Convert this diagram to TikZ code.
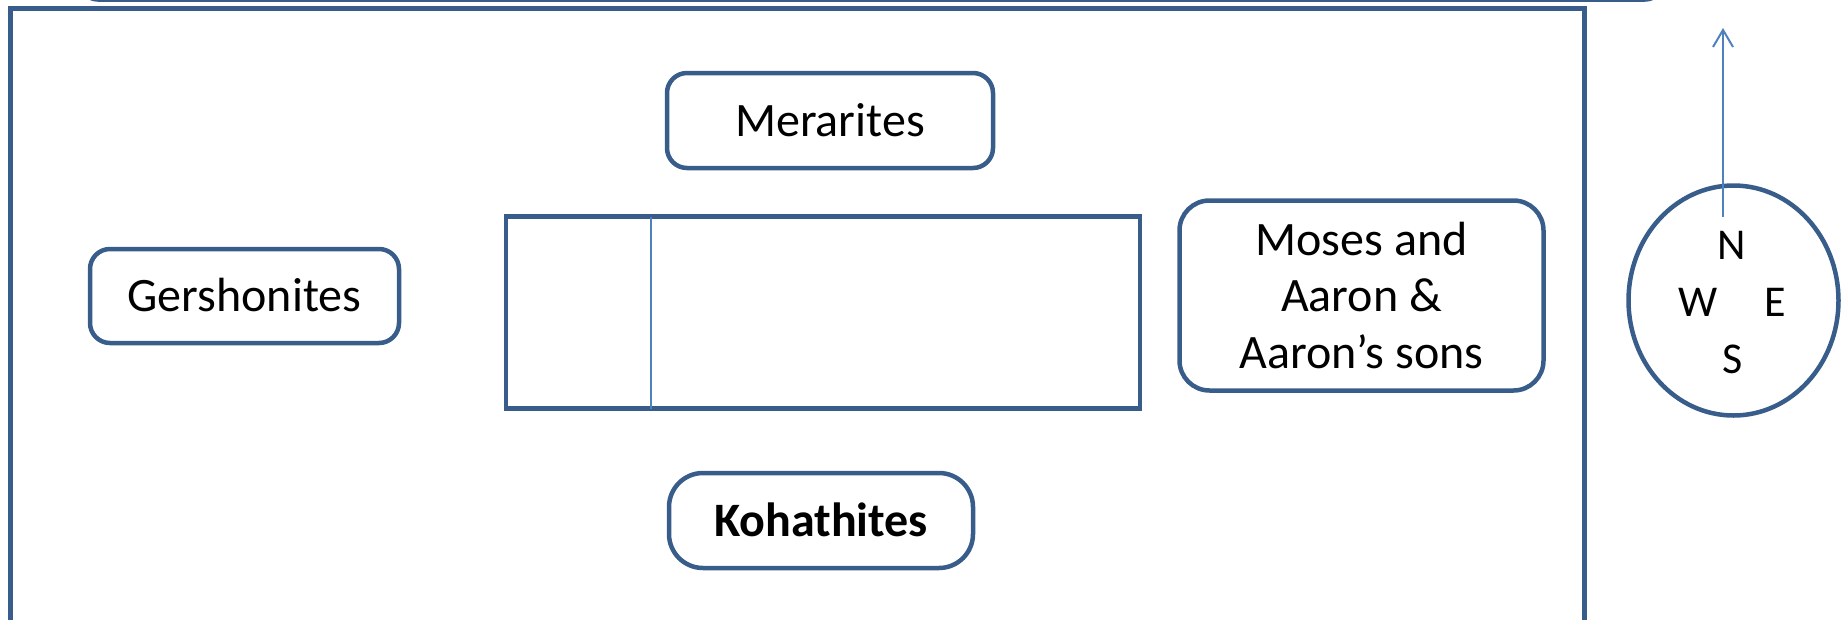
\documentclass[tikz,border=0pt]{standalone}
\usepackage{fontspec}
\setmainfont{Carlito}
\usetikzlibrary{arrows.meta,shapes.geometric}
\definecolor{edgeblue}{RGB}{56,93,138}
\definecolor{lightblue}{RGB}{79,129,189}
\tikzset{
  frame/.style={draw=edgeblue, line width=4.5pt},
  group/.style={draw=edgeblue, line width=4.5pt, rounded corners=20pt, inner sep=0pt,
    align=center, font=\fontsize{48}{56.5}\selectfont},
  single/.style={text height=31pt, text depth=0pt},
  letter/.style={inner sep=0pt, anchor=base, font=\fontsize{44}{53}\selectfont},
  fineline/.style={draw=lightblue, line width=2pt},
}
\begin{document}
\begin{tikzpicture}[x=1pt,y=-1pt]
\useasboundingbox (0,0) rectangle (1845,619);
\clip (0,0) rectangle (1845,619);
% top box (mostly outside)
\draw[frame, rounded corners=18pt] (80,-80) rectangle (1663,-0.5);
% outer camp border
\draw[frame] (10.5,700) -- (10.5,8.5) -- (1584.5,8.5) -- (1584.5,700);
% tabernacle
\node[frame, minimum width=634pt, minimum height=192pt, inner sep=0pt] (tent) at (823,312.5) {};
\draw[fineline, line width=1.8pt] (651,216.5) -- (651,408.5);
% groups
\node[group, single, minimum width=326pt, minimum height=95pt] (merarites) at (830,120.5) {Merarites};
\node[group, single, minimum width=309pt, minimum height=94pt] (gershonites) at (244.5,296) {Gershonites};
\node[group, minimum width=364pt, minimum height=190pt, rounded corners=30pt] (moses) at (1361.5,295.5) {Moses and\\Aaron \&\\Aaron’s sons};
\node[group, single, minimum width=304pt, minimum height=95pt, rounded corners=34pt, font=\fontsize{48}{56.5}\selectfont\bfseries] (kohathites) at (821,520.5) {Kohathites};
% compass
\node[ellipse, draw=edgeblue, line width=4.5pt, minimum width=210pt, minimum height=230pt, inner sep=0pt] (compass) at (1733.5,300.5) {};
\node[letter] (n) at (1732,259) {N};
\node[letter] (w) at (1698,316) {W};
\node[letter] (e) at (1775,316) {E};
\node[letter] (s) at (1733,373) {S};
\coordinate (arrowbase) at (1723,217);
\coordinate (arrowtip) at (1723,28);
\draw[fineline, -{Straight Barb[length=17pt,width=20pt]}] (arrowbase) -- (arrowtip);
\end{tikzpicture}
\end{document}
